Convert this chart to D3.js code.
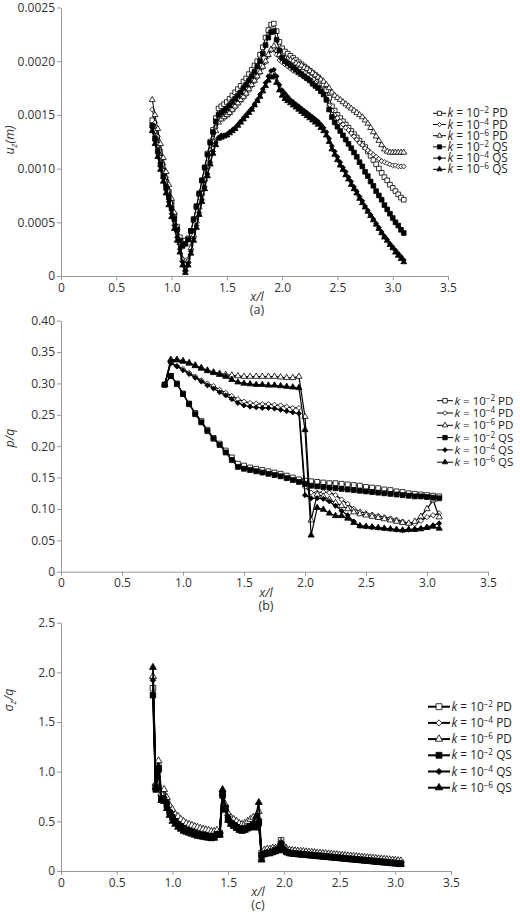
<!DOCTYPE html>
<html>
<head>
<meta charset="utf-8">
<script src="https://cdn.jsdelivr.net/npm/d3@7"></script>
<style>
body { margin: 0; background: #fff; }
svg { font-family: "Open Sans", sans-serif; }
.axis text { font-size: 12px; fill: #333; font-family: "Open Sans", sans-serif; }
.axis path, .axis line { stroke: #999; }
</style>
</head>
<body>
<div id="chart"></div>
<script>
// legend entries (same order in all three panels)
var legendExp = ["\u22122", "\u22124", "\u22126", "\u22122", "\u22124", "\u22126"];
var legendTag = ["PD", "PD", "PD", "QS", "QS", "QS"];

var xTicks = [0, 0.5, 1.0, 1.5, 2.0, 2.5, 3.0, 3.5];
var xTickLabels = ["0", "0.5", "1.0", "1.5", "2.0", "2.5", "3.0", "3.5"];

// (a) u_z, values in units of 1e-4 m
var aTicks = [0, 5, 10, 15, 20, 25];
var aTickLabels = ["0", "0.0005", "0.0010", "0.0015", "0.0020", "0.0025"];
var aX = [0.825,0.85,0.875,0.9,0.925,0.95,0.975,1.0,1.025,1.05,
  1.075,1.1,1.125,1.15,1.175,1.2,1.225,1.25,1.275,1.3,
  1.325,1.35,1.375,1.4,1.425,1.45,1.475,1.5,1.525,1.55,
  1.575,1.6,1.625,1.65,1.675,1.7,1.725,1.75,1.775,1.8,
  1.825,1.85,1.875,1.9,1.925,1.95,1.975,2.0,2.025,2.05,
  2.075,2.1,2.125,2.15,2.175,2.2,2.225,2.25,2.275,2.3,
  2.325,2.35,2.375,2.4,2.425,2.45,2.475,2.5,2.525,2.55,
  2.575,2.6,2.625,2.65,2.675,2.7,2.725,2.75,2.775,2.8,
  2.825,2.85,2.875,2.9,2.925,2.95,2.975,3.0,3.025,3.05,
  3.075,3.1];
var aPD2 = [14.5,13.5,12.2,11.0,9.8,8.8,7.8,6.8,5.7,4.6,
  3.6,3.2,3.3,3.5,4.2,5.2,6.4,7.6,8.9,10.1,
  11.4,12.5,13.6,14.7,15.6,15.8,16.0,16.2,16.5,16.8,
  17.1,17.4,17.7,18.1,18.4,18.8,19.2,19.6,20.0,20.6,
  21.3,22.2,22.9,23.4,23.5,22.8,21.8,21.2,20.9,20.7,
  20.5,20.3,20.1,19.9,19.7,19.5,19.3,19.1,18.9,18.7,
  18.5,18.2,17.8,17.3,16.6,15.8,15.4,15.0,14.7,14.4,
  14.1,13.8,13.5,13.2,12.9,12.6,12.3,12.0,11.6,11.2,
  10.8,10.4,10.0,9.6,9.2,8.9,8.5,8.2,7.9,7.6,
  7.3,7.1];
var aPD4 = [15.5,14.3,13.0,11.7,10.4,9.2,8.0,6.8,5.5,4.2,
  3.0,1.6,0.8,1.6,2.8,4.0,5.3,6.6,8.0,9.3,
  10.5,11.7,12.8,13.8,14.5,14.6,14.7,14.9,15.1,15.4,
  15.7,16.0,16.3,16.6,16.9,17.3,17.7,18.1,18.5,18.9,
  19.4,19.9,20.5,21.0,21.2,20.6,20.1,19.9,19.7,19.5,
  19.3,19.1,19.0,18.8,18.7,18.5,18.4,18.3,18.1,18.0,
  17.7,17.4,17.0,16.5,15.9,15.4,15.0,14.7,14.4,14.1,
  13.8,13.6,13.3,13.0,12.7,12.4,12.2,11.9,11.7,11.5,
  11.3,11.1,10.9,10.7,10.6,10.5,10.4,10.3,10.3,10.2,
  10.2,10.2];
var aPD6 = [16.4,15.0,13.7,12.3,11.0,9.7,8.5,7.2,5.9,4.5,
  3.1,1.5,0.6,1.4,2.6,3.8,5.1,6.4,7.7,9.0,
  10.2,11.4,12.5,13.5,14.3,14.6,14.8,15.0,15.2,15.5,
  15.8,16.1,16.4,16.7,17.0,17.4,17.8,18.2,18.6,19.0,
  19.5,20.0,20.6,21.1,21.4,21.0,20.6,20.4,20.3,20.2,
  20.1,20.0,19.8,19.7,19.6,19.4,19.3,19.1,18.9,18.7,
  18.5,18.3,18.1,17.8,17.5,17.1,16.8,16.6,16.4,16.2,
  16.0,15.8,15.6,15.4,15.2,15.0,14.8,14.5,14.2,13.8,
  13.4,13.0,12.6,12.2,11.8,11.6,11.5,11.5,11.5,11.5,
  11.5,11.5];
var aQS2 = [14.0,12.8,11.6,10.4,9.3,8.3,7.3,6.3,5.3,4.3,
  3.3,2.8,3.0,3.4,4.2,5.3,6.5,7.7,8.9,10.1,
  11.3,12.4,13.4,14.4,15.0,15.2,15.4,15.6,15.9,16.2,
  16.5,16.8,17.1,17.5,17.8,18.2,18.6,19.0,19.5,20.0,
  20.7,21.5,22.2,22.7,22.8,22.0,21.0,20.3,20.0,19.8,
  19.6,19.4,19.2,19.0,18.8,18.6,18.4,18.2,17.9,17.7,
  17.5,17.2,16.9,16.4,15.5,14.8,14.3,13.9,13.5,13.1,
  12.7,12.3,11.9,11.5,11.1,10.6,10.2,9.7,9.3,8.8,
  8.4,7.9,7.5,7.1,6.6,6.2,5.8,5.4,5.0,4.7,
  4.3,4.0];
var aQS4 = [13.8,12.6,11.4,10.2,9.1,8.0,6.9,5.8,4.7,3.6,
  2.5,1.3,0.5,1.2,2.3,3.5,4.7,5.9,7.1,8.3,
  9.5,10.6,11.6,12.4,12.9,13.1,13.1,13.2,13.4,13.6,
  13.8,14.1,14.4,14.7,15.0,15.3,15.6,16.0,16.4,16.9,
  17.4,18.0,18.6,19.1,19.2,18.6,17.8,17.3,17.0,16.7,
  16.4,16.2,16.0,15.8,15.6,15.4,15.2,15.0,14.8,14.6,
  14.4,14.1,13.8,13.4,12.8,12.1,11.6,11.1,10.6,10.1,
  9.7,9.2,8.8,8.3,7.9,7.4,7.0,6.5,6.1,5.7,
  5.3,4.9,4.5,4.1,3.7,3.4,3.0,2.7,2.4,2.1,
  1.8,1.5];
var aQS6 = [13.5,12.3,11.1,9.9,8.8,7.7,6.6,5.5,4.4,3.3,
  2.2,1.0,0.3,1.0,2.1,3.3,4.5,5.7,6.9,8.1,
  9.3,10.4,11.4,12.2,12.8,12.9,13.0,13.1,13.3,13.5,
  13.7,14.0,14.3,14.6,14.9,15.2,15.5,15.9,16.3,16.7,
  17.2,17.7,18.2,18.5,18.6,18.0,17.3,16.8,16.5,16.3,
  16.1,15.9,15.7,15.5,15.3,15.1,14.9,14.7,14.5,14.3,
  14.1,13.8,13.5,13.1,12.5,11.8,11.3,10.8,10.3,9.9,
  9.4,9.0,8.5,8.1,7.7,7.2,6.8,6.4,6.0,5.6,
  5.2,4.8,4.4,4.0,3.6,3.3,2.9,2.6,2.2,1.9,
  1.6,1.3];

// (b) p/q
var bTicks = [0, 0.05, 0.10, 0.15, 0.20, 0.25, 0.30, 0.35, 0.40];
var bTickLabels = ["0", "0.05", "0.10", "0.15", "0.20", "0.25", "0.30", "0.35", "0.40"];
var bX = [0.85,0.9,0.95,1.0,1.05,1.1,1.15,1.2,1.25,1.3,
  1.35,1.4,1.45,1.5,1.55,1.6,1.65,1.7,1.75,1.8,
  1.85,1.9,1.95,2.0,2.05,2.1,2.15,2.2,2.25,2.3,
  2.35,2.4,2.45,2.5,2.55,2.6,2.65,2.7,2.75,2.8,
  2.85,2.9,2.95,3.0,3.05,3.1];
var bPD2 = [.298,.312,.300,.284,.268,.253,.240,.226,.213,.204,
  .193,.182,.172,.169,.166,.164,.162,.160,.158,.156,
  .153,.150,.147,.145,.144,.143,.142,.141,.141,.140,
  .139,.138,.137,.135,.134,.133,.131,.130,.128,.127,
  .125,.124,.123,.122,.121,.120];
var bPD4 = [.298,.333,.328,.323,.317,.311,.305,.300,.296,.290,
  .285,.280,.275,.271,.269,.268,.267,.267,.266,.265,
  .263,.261,.261,.135,.126,.126,.127,.126,.122,.115,
  .108,.100,.096,.093,.091,.089,.087,.085,.083,.080,
  .077,.076,.081,.087,.090,.093];
var bPD6 = [.298,.338,.338,.336,.333,.329,.325,.321,.318,.316,
  .314,.313,.312,.311,.311,.311,.311,.311,.311,.310,
  .309,.309,.311,.247,.082,.123,.120,.115,.110,.105,
  .100,.095,.092,.090,.088,.086,.084,.082,.080,.078,
  .077,.080,.088,.100,.114,.087];
var bQS2 = [.298,.312,.299,.283,.267,.251,.238,.224,.212,.202,
  .190,.178,.167,.164,.162,.160,.158,.156,.154,.152,
  .149,.146,.143,.140,.137,.136,.135,.134,.133,.132,
  .131,.130,.129,.128,.127,.126,.125,.124,.123,.122,
  .121,.120,.120,.119,.118,.117];
var bQS4 = [.298,.332,.327,.321,.315,.309,.303,.297,.292,.286,
  .281,.275,.269,.265,.263,.262,.261,.261,.260,.258,
  .256,.254,.252,.122,.117,.117,.116,.112,.105,.097,
  .090,.080,.073,.072,.071,.070,.069,.068,.067,.066,
  .067,.068,.069,.071,.074,.077];
var bQS6 = [.298,.337,.337,.335,.332,.328,.324,.320,.317,.314,
  .311,.306,.302,.300,.299,.298,.298,.297,.297,.296,
  .295,.294,.293,.226,.058,.102,.099,.093,.089,.089,
  .085,.078,.073,.072,.071,.070,.069,.068,.067,.066,
  .067,.067,.068,.070,.072,.069];

// (c) sigma_z/q
var cTicks = [0, 0.5, 1.0, 1.5, 2.0, 2.5];
var cTickLabels = ["0", "0.5", "1.0", "1.5", "2.0", "2.5"];
var cX = [0.825,0.85,0.875,0.9,0.925,0.95,0.975,1.0,1.025,1.05,
  1.075,1.1,1.125,1.15,1.175,1.2,1.225,1.25,1.275,1.3,
  1.325,1.35,1.375,1.4,1.425,1.45,1.475,1.5,1.525,1.55,
  1.575,1.6,1.625,1.65,1.675,1.7,1.725,1.75,1.775,1.8,
  1.825,1.85,1.875,1.9,1.925,1.95,1.975,2.0,2.025,2.05,
  2.075,2.1,2.125,2.15,2.175,2.2,2.225,2.25,2.275,2.3,
  2.325,2.35,2.375,2.4,2.425,2.45,2.475,2.5,2.525,2.55,
  2.575,2.6,2.625,2.65,2.675,2.7,2.725,2.75,2.775,2.8,
  2.825,2.85,2.875,2.9,2.925,2.95,2.975,3.0,3.025,3.05];
var cPD2 = [1.84,0.85,1.04,0.74,0.74,0.68,0.61,0.56,0.52,0.49,
  0.47,0.45,0.43,0.42,0.41,0.40,0.39,0.385,0.38,0.375,
  0.37,0.365,0.37,0.39,0.38,0.78,0.64,0.54,0.50,0.48,
  0.46,0.44,0.43,0.44,0.45,0.46,0.47,0.46,0.50,0.18,
  0.19,0.20,0.20,0.21,0.21,0.22,0.31,0.24,0.21,0.20,
  0.193,0.190,0.187,0.184,0.181,0.178,0.175,0.172,0.170,0.167,
  0.164,0.161,0.158,0.156,0.153,0.150,0.147,0.145,0.142,0.139,
  0.136,0.133,0.131,0.128,0.125,0.122,0.119,0.117,0.114,0.111,
  0.108,0.105,0.103,0.100,0.097,0.094,0.092,0.089,0.086,0.083];
var cPD4 = [1.94,0.87,1.07,0.76,0.77,0.71,0.64,0.59,0.55,0.52,
  0.50,0.48,0.46,0.45,0.44,0.43,0.42,0.41,0.40,0.395,
  0.39,0.385,0.385,0.40,0.39,0.80,0.66,0.56,0.52,0.50,
  0.48,0.46,0.45,0.46,0.47,0.49,0.50,0.49,0.52,0.15,
  0.19,0.20,0.21,0.21,0.22,0.23,0.29,0.23,0.21,0.20,
  0.197,0.194,0.191,0.188,0.186,0.183,0.180,0.178,0.175,0.172,
  0.170,0.167,0.164,0.162,0.159,0.156,0.154,0.151,0.148,0.146,
  0.143,0.140,0.138,0.135,0.132,0.130,0.127,0.124,0.122,0.119,
  0.116,0.114,0.111,0.108,0.106,0.103,0.100,0.098,0.095,0.092];
var cPD6 = [1.96,0.88,1.11,0.78,0.82,0.74,0.66,0.62,0.57,0.55,
  0.52,0.50,0.48,0.47,0.46,0.45,0.44,0.43,0.42,0.415,
  0.41,0.40,0.40,0.41,0.40,0.78,0.67,0.58,0.54,0.52,
  0.50,0.48,0.47,0.48,0.50,0.52,0.54,0.52,0.60,0.13,
  0.21,0.22,0.22,0.23,0.23,0.24,0.29,0.25,0.22,0.21,
  0.207,0.204,0.201,0.198,0.196,0.193,0.190,0.188,0.185,0.182,
  0.180,0.177,0.174,0.172,0.169,0.166,0.164,0.161,0.158,0.156,
  0.153,0.150,0.148,0.145,0.142,0.140,0.137,0.134,0.132,0.129,
  0.126,0.124,0.121,0.118,0.116,0.113,0.110,0.108,0.105,0.102];
var cQS2 = [1.77,0.82,1.02,0.72,0.72,0.66,0.59,0.54,0.50,0.47,
  0.45,0.43,0.41,0.40,0.39,0.38,0.37,0.365,0.36,0.355,
  0.35,0.345,0.35,0.37,0.37,0.76,0.62,0.52,0.48,0.46,
  0.44,0.42,0.41,0.42,0.43,0.44,0.45,0.44,0.48,0.16,
  0.17,0.18,0.18,0.19,0.20,0.21,0.27,0.21,0.19,0.18,
  0.177,0.174,0.171,0.168,0.166,0.163,0.160,0.158,0.155,0.152,
  0.150,0.147,0.144,0.142,0.139,0.136,0.134,0.131,0.128,0.126,
  0.123,0.120,0.118,0.115,0.112,0.110,0.107,0.104,0.102,0.099,
  0.096,0.094,0.091,0.088,0.086,0.083,0.080,0.078,0.075,0.072];
var cQS4 = [1.92,0.86,1.05,0.74,0.74,0.68,0.60,0.55,0.51,0.48,
  0.46,0.44,0.42,0.41,0.40,0.39,0.38,0.37,0.365,0.36,
  0.355,0.35,0.355,0.375,0.37,0.79,0.65,0.55,0.50,0.48,
  0.46,0.44,0.43,0.44,0.45,0.46,0.48,0.47,0.51,0.14,
  0.18,0.19,0.19,0.20,0.21,0.22,0.28,0.22,0.20,0.19,
  0.185,0.182,0.179,0.176,0.174,0.171,0.168,0.166,0.163,0.160,
  0.158,0.155,0.152,0.150,0.147,0.144,0.142,0.139,0.136,0.134,
  0.131,0.128,0.126,0.123,0.120,0.118,0.115,0.112,0.110,0.107,
  0.104,0.102,0.099,0.096,0.094,0.091,0.088,0.086,0.083,0.080];
var cQS6 = [2.05,0.84,1.03,0.71,0.70,0.63,0.56,0.50,0.47,0.44,
  0.42,0.40,0.39,0.38,0.37,0.36,0.35,0.345,0.34,0.335,
  0.33,0.325,0.33,0.36,0.36,0.82,0.63,0.51,0.47,0.45,
  0.43,0.41,0.40,0.41,0.43,0.45,0.47,0.55,0.69,0.11,
  0.17,0.18,0.19,0.20,0.21,0.22,0.27,0.21,0.19,0.18,
  0.172,0.169,0.166,0.163,0.161,0.158,0.155,0.153,0.150,0.147,
  0.145,0.142,0.139,0.137,0.134,0.131,0.129,0.126,0.123,0.121,
  0.118,0.115,0.113,0.110,0.107,0.105,0.102,0.099,0.097,0.094,
  0.091,0.089,0.086,0.083,0.081,0.078,0.075,0.073,0.070,0.067];

var w = 520;
var h = 922;

var svg = d3.select("#chart")
            .append("svg")
            .attr("width", w)
            .attr("height", h);

// rhombus marker, like the spreadsheet's diamond
var symRhombus = {
  draw: function(ctx, size) {
    var r = Math.sqrt(size / 2);
    ctx.moveTo(0, -r);
    ctx.lineTo(r, 0);
    ctx.lineTo(0, r);
    ctx.lineTo(-r, 0);
    ctx.closePath();
  }
};
var symTypes = [d3.symbolSquare, symRhombus, d3.symbolTriangle, d3.symbolSquare, symRhombus, d3.symbolTriangle];
var symSizes = [22, 12, 15, 22, 12, 15];
var fills = ["#fff", "#fff", "#fff", "#000", "#000", "#000"];

function drawPanel(p) {
  var xScale = d3.scaleLinear().domain([0, 3.5]).range([p.left, p.right]);
  var yScale = d3.scaleLinear().domain([0, p.yMax]).range([p.bottom, p.top]);
  var g = svg.append("g");

  g.append("g")
    .attr("class", "axis")
    .attr("transform", "translate(0," + p.bottom + ")")
    .call(d3.axisBottom(xScale).tickValues(xTicks)
      .tickFormat(function(d, i) { return xTickLabels[i]; })
      .tickSize(4).tickSizeOuter(0).tickPadding(3));

  g.append("g")
    .attr("class", "axis")
    .attr("transform", "translate(" + p.left + ",0)")
    .call(d3.axisLeft(yScale).tickValues(p.yTicks)
      .tickFormat(function(d, i) { return p.yTickLabels[i]; })
      .tickSize(4).tickSizeOuter(0).tickPadding(2));

  var line = d3.line()
    .x(function(d) { return xScale(d[0]); })
    .y(function(d) { return yScale(d[1]); });

  p.series.forEach(function(vals, s) {
    var pts = p.xs.map(function(xv, i) { return [xv, vals[i]]; });
    g.append("path")
      .datum(pts)
      .attr("fill", "none")
      .attr("stroke", "#000")
      .attr("stroke-width", p.lw)
      .attr("d", line);
    g.selectAll(null)
      .data(pts)
      .enter()
      .append("path")
      .attr("transform", function(d) { return "translate(" + xScale(d[0]) + "," + yScale(d[1]) + ")"; })
      .attr("d", d3.symbol().type(symTypes[s]).size(symSizes[s] * p.ms))
      .attr("fill", fills[s])
      .attr("stroke", "#000")
      .attr("stroke-width", 0.8);
  });

  // legend
  legendTag.forEach(function(tag, i) {
    var ry = p.legY + i * p.legStep;
    g.append("line")
      .attr("x1", p.legX).attr("x2", p.legX + p.legLen)
      .attr("y1", ry).attr("y2", ry)
      .attr("stroke", "#000").attr("stroke-width", p.legLw);
    g.append("path")
      .attr("transform", "translate(" + (p.legX + p.legLen / 2) + "," + ry + ")")
      .attr("d", d3.symbol().type(symTypes[i]).size(symSizes[i] * p.legMs))
      .attr("fill", fills[i])
      .attr("stroke", "#000")
      .attr("stroke-width", 0.8);
    var t = g.append("text")
      .attr("x", p.legX + p.legLen + 1.5)
      .attr("y", ry + 4)
      .style("font-size", p.legFs + "px")
      .style("fill", "#222");
    t.append("tspan").style("font-style", "italic").text("k");
    t.append("tspan").text(" = 10");
    t.append("tspan").attr("dy", -4).style("font-size", (p.legFs * 0.7) + "px").text(legendExp[i]);
    t.append("tspan").attr("dy", 4).text(" " + tag);
  });

  // axis titles
  g.append("text")
    .attr("x", p.xLabX).attr("y", p.bottom + 25)
    .attr("text-anchor", "middle")
    .style("font-size", "12.5px").style("font-style", "italic").style("fill", "#333")
    .text("x/l");
  g.append("text")
    .attr("x", p.xLabX).attr("y", p.bottom + 38)
    .attr("text-anchor", "middle")
    .style("font-size", "12.5px").style("fill", "#333")
    .text(p.tag);

  var yl = g.append("text")
    .attr("transform", "translate(" + p.yLabX + "," + p.yLabY + ") rotate(-90)")
    .attr("text-anchor", "middle")
    .style("font-size", "12.5px").style("font-style", "italic").style("fill", "#333");
  p.yTitle.forEach(function(part) {
    var sp = yl.append("tspan").text(part[0]);
    if (part[1]) sp.attr("dy", part[1]);
    if (part[2]) sp.style("font-size", part[2]);
  });
}

drawPanel({
  xs: aX, series: [aPD2, aPD4, aPD6, aQS2, aQS4, aQS6],
  yMax: 25, yTicks: aTicks, yTickLabels: aTickLabels,
  left: 61, right: 448, top: 7.5, bottom: 276,
  lw: 1, ms: 1,
  legX: 433, legY: 113.3, legStep: 11.2, legLen: 13, legLw: 1, legMs: 0.8, legFs: 11.8,
  xLabX: 257, tag: "(a)", yLabX: 14, yLabY: 140,
  yTitle: [["u"], ["z", 3, "9px"], ["(m)", -3, "12.5px"]]
});

drawPanel({
  xs: bX, series: [bPD2, bPD4, bPD6, bQS2, bQS4, bQS6],
  yMax: 0.40, yTicks: bTicks, yTickLabels: bTickLabels,
  left: 61, right: 488, top: 320.7, bottom: 571.7,
  lw: 1.2, ms: 1.1,
  legX: 437, legY: 400.7, legStep: 12.3, legLen: 16, legLw: 1, legMs: 0.9, legFs: 11.5,
  xLabX: 266, tag: "(b)", yLabX: 14, yLabY: 438,
  yTitle: [["p/q"]]
});

drawPanel({
  xs: cX, series: [cPD2, cPD4, cPD6, cQS2, cQS4, cQS6],
  yMax: 2.5, yTicks: cTicks, yTickLabels: cTickLabels,
  left: 61, right: 451, top: 622.7, bottom: 871,
  lw: 1.8, ms: 1.4,
  legX: 428, legY: 706.7, legStep: 16.2, legLen: 22, legLw: 2, legMs: 1.6, legFs: 11.8,
  xLabX: 258, tag: "(c)", yLabX: 13, yLabY: 700,
  yTitle: [["\u03c3"], ["z", 3, "9px"], ["/q", -3, "12.5px"]]
});
</script>
</body>
</html>
